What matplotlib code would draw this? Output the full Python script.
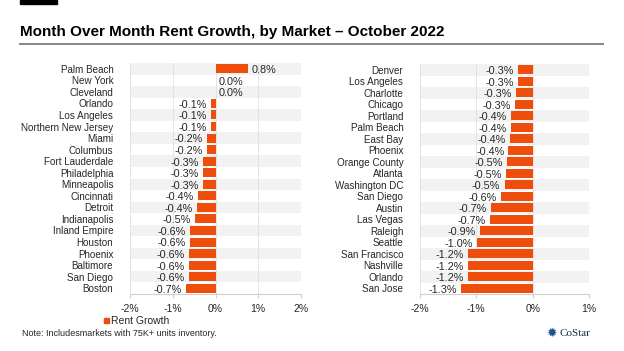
import matplotlib.pyplot as plt
import numpy as np
from matplotlib.patches import Rectangle

# Left panel
left_markets = ['Palm Beach', 'New York', 'Cleveland', 'Orlando', 'Los Angeles',
                'Northern New Jersey', 'Miami', 'Columbus', 'Fort Lauderdale',
                'Philadelphia', 'Minneapolis', 'Cincinnati', 'Detroit', 'Indianapolis',
                'Inland Empire', 'Houston', 'Phoenix', 'Baltimore', 'San Diego', 'Boston']
left_values = [0.77, 0.0, 0.0, -0.10, -0.10, -0.10, -0.21, -0.21, -0.30, -0.30, -0.30,
               -0.40, -0.44, -0.48, -0.59, -0.59, -0.61, -0.61, -0.63, -0.69]
left_labels = ['0.8%', '0.0%', '0.0%', '-0.1%', '-0.1%', '-0.1%', '-0.2%', '-0.2%', '-0.3%',
               '-0.3%', '-0.3%', '-0.4%', '-0.4%', '-0.5%', '-0.6%', '-0.6%', '-0.6%',
               '-0.6%', '-0.6%', '-0.7%']
left_ticks = [-2, -1, 0, 1, 2]

# Right panel
right_markets = ['Denver', 'Los Angeles', 'Charlotte', 'Chicago', 'Portland', 'Palm Beach',
                 'East Bay', 'Phoenix', 'Orange County', 'Atlanta', 'Washington DC',
                 'San Diego', 'Austin', 'Las Vegas', 'Raleigh', 'Seattle', 'San Francisco',
                 'Nashville', 'Orlando', 'San Jose']
right_values = [-0.26, -0.26, -0.29, -0.31, -0.39, -0.39, -0.40, -0.43, -0.46, -0.48,
                -0.50, -0.57, -0.74, -0.75, -0.93, -0.98, -1.15, -1.15, -1.14, -1.27]
right_labels = ['-0.3%', '-0.3%', '-0.3%', '-0.3%', '-0.4%', '-0.4%', '-0.4%', '-0.4%',
                '-0.5%', '-0.5%', '-0.5%', '-0.6%', '-0.7%', '-0.7%', '-0.9%', '-1.0%',
                '-1.2%', '-1.2%', '-1.2%', '-1.3%']
right_ticks = [-2, -1, 0, 1]

BAR = '#ee4d0c'
TXT = '#262626'
plt.rcParams['font.family'] = ['Liberation Sans', 'DejaVu Sans']

W, H = 624, 351
fig = plt.figure(figsize=(W / 100, H / 100), dpi=100)


def px_axes(x0, y0, x1, y1):
    return fig.add_axes([x0 / W, 1 - y1 / H, (x1 - x0) / W, (y1 - y0) / H])


def panel(ax, markets, values, labels, ticks):
    n = len(markets)
    y = np.arange(n)
    xmin, xmax = ticks[0], ticks[-1]
    # alternating row bands and vertical gridlines
    for i in range(0, n, 2):
        ax.axhspan(i - 0.5, i + 0.5, color='#f2f2f2', zorder=0, lw=0)
    for t in ticks:
        ax.axvline(t, color='#e0e0e0', lw=0.6, zorder=0.5)
    ax.barh(y, values, height=0.78, color=BAR, zorder=2)
    for yi, v, lab in zip(y, values, labels):
        if v >= 0:
            ax.annotate(lab, (v, yi + 0.12), xytext=(2.5, 0), textcoords='offset points',
                        ha='left', va='center', fontsize=7.8, color=TXT)
        else:
            ax.annotate(lab, (v, yi + 0.12), xytext=(-3, 0), textcoords='offset points',
                        ha='right', va='center', fontsize=7.8, color=TXT)
    ax.set_ylim(n - 0.5, -0.5)
    ax.set_xlim(xmin, xmax)
    ax.set_yticks(y)
    ax.set_yticklabels(markets, fontsize=7.1, color=TXT)
    ax.tick_params(axis='y', length=0, pad=12)
    ax.set_xticks(ticks)
    ax.set_xticklabels([f'{t}%' for t in ticks], fontsize=7.5, color=TXT)
    ax.tick_params(axis='x', length=3, color='#d0d0d0', pad=4)
    for s in ['top', 'right', 'left']:
        ax.spines[s].set_visible(False)
    ax.spines['bottom'].set_color('#d0d0d0')
    ax.spines['bottom'].set_linewidth(0.8)


ax1 = px_axes(130, 63, 301, 294)
panel(ax1, left_markets, left_values, left_labels, left_ticks)
ax2 = px_axes(420, 64, 589, 294)
panel(ax2, right_markets, right_values, right_labels, right_ticks)

# header
fig.patches.append(Rectangle((20 / W, 1 - 4 / H), 37 / W, 4 / H, transform=fig.transFigure,
                             color='black'))
fig.text(20 / W, 1 - 32 / H, 'Month Over Month Rent Growth, by Market \u2013 October 2022',
         fontsize=11, weight='bold', va='center', ha='left', color='black')
fig.add_artist(plt.Line2D([20 / W, 603 / W], [1 - 44 / H, 1 - 44 / H], color='#8c8c8c', lw=1.5))

# legend
fig.patches.append(Rectangle((104 / W, 1 - 323 / H), 5 / W, 5 / H, transform=fig.transFigure,
                             color=BAR))
fig.text(111 / W, 1 - 320.5 / H, 'Rent Growth', fontsize=7.5, va='center', ha='left', color=TXT)

# note
fig.text(22 / W, 1 - 333 / H, 'Note: Includesmarkets with 75K+ units inventory.',
         fontsize=6.5, va='center', ha='left', color=TXT)

# logo
fig.text(560 / W, 1 - 333 / H, 'CoStar', fontsize=8, va='center', ha='left', color='#1b2a4a',
         family=['Liberation Serif', 'DejaVu Serif'])
fig.text(546 / W, 1 - 333 / H, '\u2739', fontsize=9, va='center', ha='left', color='#1d4f91',
         family=['DejaVu Sans'])

fig.savefig('out.png', dpi=100)
